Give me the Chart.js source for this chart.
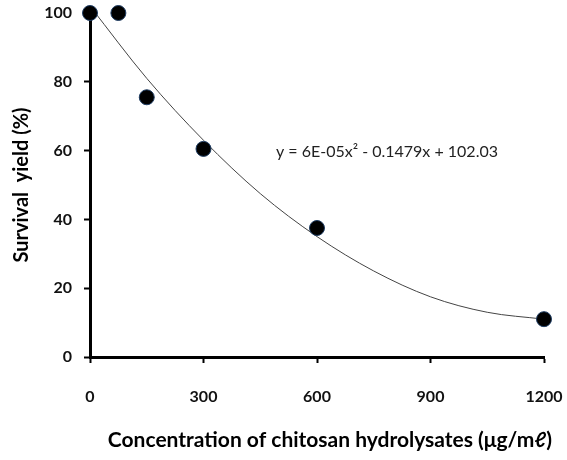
<!DOCTYPE html>
<html>
<head>
<meta charset="utf-8">
<script src="https://cdn.jsdelivr.net/npm/chart.js@4.4.0/dist/chart.umd.min.js"></script>
<style>
  html, body { margin: 0; padding: 0; background: #fff; }
  #wrap { width: 567px; height: 460px; position: relative; }
</style>
</head>
<body>
<div id="wrap"><canvas id="survivalChart"></canvas></div>
<script>
// measured points (concentration, survival %)
const concentrations = [0, 75, 150, 300, 600, 1200];
const survival = [100, 100, 75.5, 60.5, 37.5, 11];

// trendline
const trendX = [0, 150, 300, 450, 600, 750, 900, 1050, 1200];
const trendY = [102, 81, 63, 47.5, 35, 25, 17.5, 13, 11];

const xTicks = [0, 300, 600, 900, 1200];
const yTicks = [0, 20, 40, 60, 80, 100];
const equationText = 'y = 6E-05x\u00B2 - 0.1479x + 102.03';
const xTitle = 'Concentration of chitosan hydrolysates (\u03BCg/m\u2113)';

const fontFamily = 'Lato, "Open Sans", sans-serif';

// equation label + x axis title (title sits a bit right of the plot centre in the original)
const extraText = {
  id: 'extraText',
  afterDraw(chart) {
    const { ctx, scales } = chart;
    ctx.save();
    ctx.textAlign = 'center';
    ctx.textBaseline = 'middle';
    ctx.font = '16px ' + fontFamily;
    ctx.fillStyle = '#222';
    ctx.fillText(equationText, scales.x.getPixelForValue(785), scales.y.getPixelForValue(59.6));
    ctx.font = 'bold 21px ' + fontFamily;
    ctx.fillStyle = '#000';
    ctx.fillText(xTitle, 330, 440);
    ctx.restore();
  }
};

new Chart(document.getElementById('survivalChart'), {
  type: 'scatter',
  data: {
    datasets: [
      {
        label: 'Trend',
        data: trendX.map((x, i) => ({ x: x, y: trendY[i] })),
        showLine: true,
        borderColor: '#444',
        borderWidth: 1,
        pointRadius: 0,
        cubicInterpolationMode: 'monotone',
        order: 2
      },
      {
        label: 'Survival yield',
        data: concentrations.map((x, i) => ({ x: x, y: survival[i] })),
        backgroundColor: '#000',
        borderColor: '#1f3d63',
        borderWidth: 1,
        pointRadius: 7.5,
        clip: false,
        order: 1
      }
    ]
  },
  options: {
    responsive: true,
    maintainAspectRatio: false,
    animation: false,
    layout: { padding: { top: 13, right: 23, left: 0, bottom: 0 } },
    plugins: { legend: { display: false }, tooltip: { enabled: false } },
    scales: {
      x: {
        type: 'linear',
        min: 0,
        max: 1200,
        afterBuildTicks: (scale) => { scale.ticks = xTicks.map(v => ({ value: v })); },
        afterFit: (scale) => {
          scale.height = 103;
          scale.paddingLeft = 0;
          scale.paddingRight = 0;
        },
        border: { color: '#000', width: 3 },
        grid: { drawOnChartArea: false, drawTicks: true, tickLength: 6, tickColor: '#000', tickWidth: 2 },
        ticks: {
          color: '#111',
          padding: 24,
          callback: (v) => String(v),
          font: { family: fontFamily, size: 16, weight: 'bold' }
        },
        title: { display: false }
      },
      y: {
        min: 0,
        max: 100,
        afterBuildTicks: (scale) => { scale.ticks = yTicks.map(v => ({ value: v })); },
        afterFit: (scale) => {
          scale.width = 90;
          scale.paddingTop = 0;
          scale.paddingBottom = 0;
        },
        border: { color: '#000', width: 3 },
        grid: { drawOnChartArea: false, drawTicks: true, tickLength: 6, tickColor: '#000', tickWidth: 2 },
        ticks: { color: '#111', padding: 12, font: { family: fontFamily, size: 16, weight: 'bold' } },
        title: {
          display: true,
          text: 'Survival  yield (%)',
          color: '#000',
          padding: 10,
          font: { family: fontFamily, size: 20, weight: 'bold' }
        }
      }
    }
  },
  plugins: [extraText]
});
</script>
</body>
</html>
